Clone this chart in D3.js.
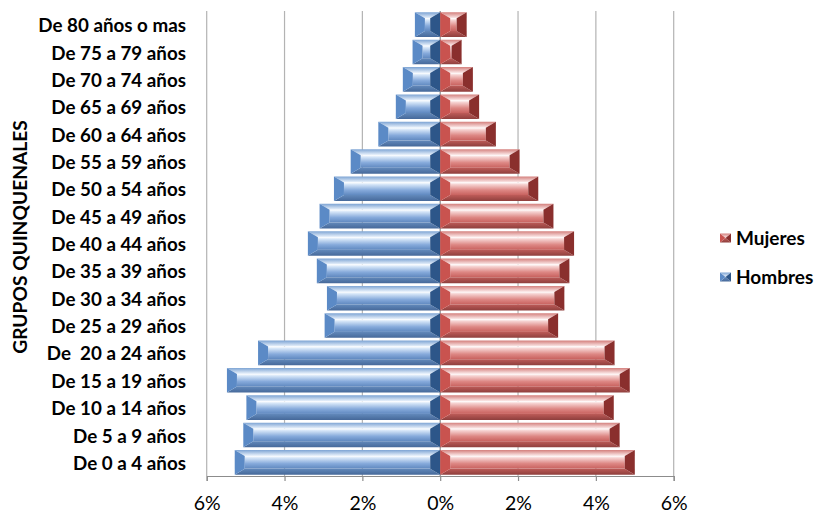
<!DOCTYPE html>
<html><head><meta charset="utf-8">
<script src="https://cdn.jsdelivr.net/npm/d3@7"></script>
<style>
html,body{margin:0;padding:0;background:#fff;}
svg{display:block;font-family:Lato,"Open Sans",sans-serif;}
</style></head>
<body>
<svg id="chart" width="815" height="513"></svg>
<script>
const categories = ["De 0 a 4 años","De 5 a 9 años","De 10 a 14 años","De 15 a 19 años","De  20 a 24 años","De 25 a 29 años","De 30 a 34 años","De 35 a 39 años","De 40 a 44 años","De 45 a 49 años","De 50 a 54 años","De 55 a 59 años","De 60 a 64 años","De 65 a 69 años","De 70 a 74 años","De 75 a 79 años","De 80 años o mas"];
const hombres = [5.28,5.06,4.98,5.48,4.68,2.97,2.91,3.17,3.40,3.10,2.73,2.30,1.59,1.14,0.96,0.71,0.65];
const mujeres = [5.00,4.61,4.46,4.87,4.48,3.03,3.19,3.32,3.44,2.91,2.52,2.04,1.43,1.00,0.84,0.55,0.68];
const tickValues = [-6,-4,-2,0,2,4,6];
const seriesNames = ["Mujeres","Hombres"];

const svg = d3.select("#chart");
const pLeft = 206.7, pRight = 673.7, pTop = 11, pBottom = 476;
const x = d3.scaleLinear().domain([-6,6]).range([pLeft,pRight]);
const y = d3.scaleBand().domain(categories).range([pBottom,pTop]).paddingInner(0.1).paddingOuter(0.05);

const defs = svg.append("defs");
function grad(id, stops){
  const g = defs.append("linearGradient").attr("id",id).attr("x1",0).attr("y1",0).attr("x2",0).attr("y2",1);
  stops.forEach(s=>g.append("stop").attr("offset",s[0]).attr("stop-color",s[1]));
}
const palettes = {
  blue:{face:[[0,"#ffffff"],[0.15,"#d6e6f8"],[0.6,"#86aadb"],[1,"#5f88bf"]],
        top:[[0,"#7da4d4"],[1,"#eef5fd"]], bot:[[0,"#6289bb"],[1,"#46699a"]],
        l:"#5b8ac6", r:"#2d5689"},
  red:{face:[[0,"#ffffff"],[0.15,"#f6d3d2"],[0.6,"#dd8784"],[1,"#c8615e"]],
       top:[[0,"#d4807d"],[1,"#fdeeee"]], bot:[[0,"#bd5b58"],[1,"#8f3f3d"]],
       l:"#c9534f", r:"#8a2f2d"}
};
Object.entries(palettes).forEach(([k,p])=>{
  grad(k+"Face",p.face); grad(k+"Top",p.top); grad(k+"Bot",p.bot);
});

// gridlines
const grid = svg.append("g");
tickValues.forEach(t=>{
  grid.append("line").attr("x1",x(t)).attr("x2",x(t)).attr("y1",pTop).attr("y2",pBottom)
    .attr("stroke", t===0 ? "#8c8c8c" : "#b3b3b3").attr("stroke-width",1.2);
});

function drawBar(g, x0, x1, yy, h, pal){
  const w = x1-x0;
  const bx = Math.min(10, w/2), by = Math.min(6, h/2);
  const y0 = yy, y1 = yy+h;
  const P = pts=>pts.map(p=>p.join(",")).join(" ");
  if (w - 2*bx > 0)
    g.append("rect").attr("x",x0+bx).attr("y",y0+by).attr("width",w-2*bx).attr("height",h-2*by).attr("fill",`url(#${pal}Face)`);
  g.append("polygon").attr("points",P([[x0,y0],[x1,y0],[x1-bx,y0+by],[x0+bx,y0+by]])).attr("fill",`url(#${pal}Top)`);
  g.append("polygon").attr("points",P([[x0,y1],[x1,y1],[x1-bx,y1-by],[x0+bx,y1-by]])).attr("fill",`url(#${pal}Bot)`);
  g.append("polygon").attr("points",P([[x0,y0],[x0+bx,y0+by],[x0+bx,y1-by],[x0,y1]])).attr("fill",palettes[pal].l);
  g.append("polygon").attr("points",P([[x1,y0],[x1-bx,y0+by],[x1-bx,y1-by],[x1,y1]])).attr("fill",palettes[pal].r);
}
const bars = svg.append("g");
categories.forEach((c,i)=>{
  drawBar(bars, x(-hombres[i]), x(0), y(c), y.bandwidth(), "blue");
  drawBar(bars, x(0), x(mujeres[i]), y(c), y.bandwidth(), "red");
});

// bottom axis
const xAxis = d3.axisBottom(x).tickValues(tickValues).tickSize(5).tickFormat(d=>Math.abs(d)+"%");
const ax = svg.append("g").attr("transform",`translate(0,${pBottom})`).call(xAxis);
ax.select(".domain").attr("stroke","#8c8c8c").attr("stroke-width",1.2);
ax.selectAll(".tick line").attr("stroke","#8c8c8c").attr("stroke-width",1.2);
ax.selectAll(".tick text").attr("font-family","Lato, sans-serif").attr("font-size",19.5).attr("fill","#000")
  .attr("y",34).attr("dy",0);

// category labels
const yAxis = d3.axisLeft(y).tickSize(0).tickPadding(0);
const ay = svg.append("g").attr("transform",`translate(186,1.5)`).call(yAxis);
ay.select(".domain").remove();
ay.selectAll(".tick text").attr("font-family","Lato, sans-serif").attr("font-size",18.8).attr("font-weight","bold")
  .attr("fill","#000").style("white-space","pre");

// y title
svg.append("text").attr("transform","translate(27,237) rotate(-90)").attr("text-anchor","middle")
  .attr("font-size",19.2).attr("font-weight","bold").attr("fill","#000").text("GRUPOS QUINQUENALES");

// legend
const leg = svg.append("g");
[["Mujeres","red",238],["Hombres","blue",277]].forEach(([name,pal,cy])=>{
  drawBar(leg, 720, 731, cy-4.5, 9, pal);
  leg.append("text").attr("x",736).attr("y",cy).attr("dy","0.35em").attr("font-size",19).attr("font-weight","bold").attr("fill","#000").text(name);
});
</script>
</body></html>
